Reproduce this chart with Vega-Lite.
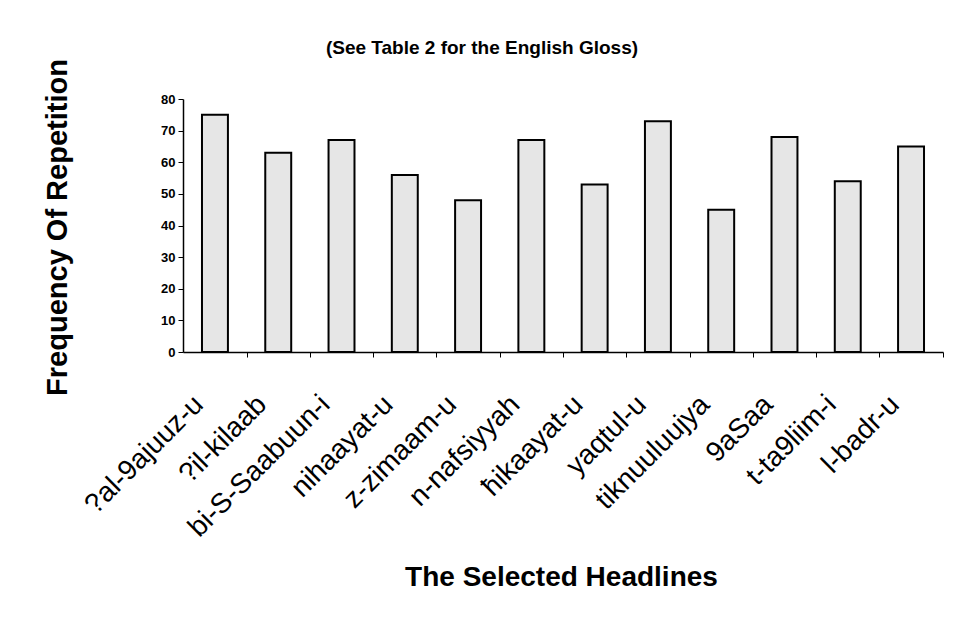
{
  "$schema": "https://vega.github.io/schema/vega-lite/v6.json",
  "autosize": "none",
  "width": 760,
  "height": 253,
  "padding": {"left": 183, "top": 99, "right": 20, "bottom": 274},
  "background": "white",
  "title": {
    "text": "(See Table 2 for the English Gloss)",
    "font": "Liberation Sans",
    "fontSize": 19,
    "fontWeight": "bold",
    "color": "black",
    "anchor": "middle",
    "dx": -81,
    "offset": 1
  },
  "data": {
    "values": [
      {"headline": "?al-9ajuuz-u", "frequency": 75},
      {"headline": "?il-kilaab", "frequency": 63},
      {"headline": "bi-S-Saabuun-i", "frequency": 67},
      {"headline": "nihaayat-u", "frequency": 56},
      {"headline": "z-zimaam-u", "frequency": 48},
      {"headline": "n-nafsiyyah", "frequency": 67},
      {"headline": "ħikaayat-u", "frequency": 53},
      {"headline": "yaqtul-u", "frequency": 73},
      {"headline": "tiknuuluujya", "frequency": 45},
      {"headline": "9aSaa", "frequency": 68},
      {"headline": "t-ta9liim-i", "frequency": 54},
      {"headline": "l-badr-u", "frequency": 65}
    ]
  },
  "mark": {"type": "bar", "fill": "#e6e6e6", "stroke": "black", "strokeWidth": 2},
  "encoding": {
    "x": {
      "field": "headline",
      "type": "nominal",
      "sort": null,
      "scale": {"paddingInner": 0.59, "paddingOuter": 0.3},
      "axis": {
        "title": "The Selected Headlines",
        "titleFont": "Liberation Sans",
        "titleFontSize": 28,
        "titleFontWeight": "bold",
        "titleColor": "black",
        "titleX": 378,
        "titleY": 225,
        "titleBaseline": "middle",
        "labelAngle": -45,
        "labelAlign": "right",
        "labelBaseline": "middle",
        "labelFont": "Liberation Sans",
        "labelFontSize": 28,
        "labelColor": "black",
        "labelPadding": 43,
        "labelOffset": -48,
        "labelOverlap": false,
        "labelLimit": 400,
        "ticks": true,
        "tickOffset": 31.67,
        "tickSize": 5,
        "tickWidth": 1,
        "tickColor": "black",
        "domainColor": "black",
        "domainWidth": 1.5
      }
    },
    "y": {
      "field": "frequency",
      "type": "quantitative",
      "scale": {"domain": [0, 80]},
      "axis": {
        "values": [0, 10, 20, 30, 40, 50, 60, 70, 80],
        "title": "Frequency Of Repetition",
        "titleFont": "Liberation Sans",
        "titleFontSize": 29,
        "titleFontWeight": "bold",
        "titleColor": "black",
        "titleX": -126,
        "titleY": 128,
        "titleAngle": -90,
        "titleBaseline": "middle",
        "titleAlign": "center",
        "labelFont": "Liberation Sans",
        "labelFontSize": 13,
        "labelFontWeight": "bold",
        "labelColor": "black",
        "labelPadding": 3,
        "tickSize": 5,
        "tickColor": "black",
        "domainColor": "black",
        "domainWidth": 1.5,
        "grid": false
      }
    }
  },
  "config": {"view": {"stroke": null}}
}
